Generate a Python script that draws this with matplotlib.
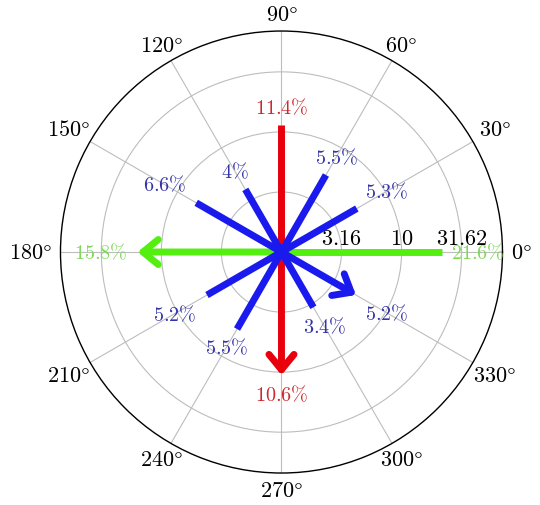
import numpy as np
import matplotlib
matplotlib.use('Agg')
import matplotlib.pyplot as plt

plt.rcParams['mathtext.fontset'] = 'cm'

# data: direction (deg), share (%), label text, colour group
angles = [0, 30, 60, 90, 120, 150, 180, 210, 240, 270, 300, 330]
shares = [21.6, 5.3, 5.5, 11.4, 4.0, 6.6, 15.8, 5.2, 5.5, 10.6, 3.4, 5.2]
share_labels = ['21.6', '5.3', '5.5', '11.4', '4', '6.6', '15.8', '5.2', '5.5', '10.6', '3.4', '5.2']
groups = ['g', 'b', 'b', 'r', 'b', 'b', 'g', 'b', 'b', 'r', 'b', 'b']
arrows = [False, False, False, False, False, False, True, False, False, True, False, True]

radial_ticks = [0.5, 1.0, 1.5]
radial_labels = ['3.16', '10', '31.62']
theta_ticks = list(range(0, 360, 30))

line_col = {'b': '#1a1aee', 'r': '#e8000c', 'g': '#55ee11'}
text_col = {'b': '#3434a8', 'r': '#cc2a30', 'g': '#7ed957'}
zord = {'g': 3, 'r': 4, 'b': 5}
# distance of label centre from line end (px)
label_pad = [36, 35, 21, 18, 21, 37, 37, 37, 21, 19, 22, 36]
rmax = 1.84

fig = plt.figure(figsize=(5.4, 5.06), dpi=100)
ax = fig.add_axes([0.112, 0.0632, 0.8185, 0.8735], projection='polar')
ax.set_ylim(0, rmax)

ax.set_rticks(radial_ticks)
ax.set_yticklabels([])
ax.set_thetagrids(theta_ticks, [''] * len(theta_ticks))
ax.grid(True, color='#bdbdbd', lw=0.8)
ax.spines['polar'].set_linewidth(1.0)

# angle labels outside the circle, edge kept ~9 px from it
theta_txt = []
for t in theta_ticks:
    a = ax.annotate(r'$%d\degree$' % t, xy=(np.deg2rad(t), rmax), xytext=(0, 0),
                    textcoords='offset pixels', ha='center', va='center',
                    fontsize=16, annotation_clip=False)
    theta_txt.append(a)
fig.canvas.draw()
rend = fig.canvas.get_renderer()
for t, a in zip(theta_ticks, theta_txt):
    bb = a.get_window_extent(rend)
    hw, hh = bb.width / 2, bb.height / 2 - 2
    c, s = np.cos(np.deg2rad(t)), np.sin(np.deg2rad(t))
    ext = min(hw / abs(c) if abs(c) > 1e-6 else 1e9, hh / abs(s) if abs(s) > 1e-6 else 1e9)
    d = 9 + ext
    a.xyann = (d * c, d * s)

for r, lab in zip(radial_ticks, radial_labels):
    ax.annotate(r'$%s$' % lab, xy=(0, r), xytext=(0, 10), textcoords='offset points',
                ha='center', va='center', fontsize=16, color='black', zorder=6)

for i in range(len(angles)):
    th = np.deg2rad(angles[i])
    r = np.log10(shares[i])
    g = groups[i]
    c = line_col[g]
    if arrows[i]:
        ax.annotate('', xy=(th, r), xytext=(th, 0), zorder=zord[g],
                    arrowprops=dict(arrowstyle='->, head_length=0.55, head_width=0.45',
                                    mutation_scale=20, lw=5, color=c,
                                    shrinkA=0, shrinkB=0))
    else:
        ax.plot([th, th], [0, r], color=c, lw=5, solid_capstyle='butt', zorder=zord[g])
    off = label_pad[i] * 0.72
    ax.annotate(r'$%s\%%$' % share_labels[i], xy=(th, r),
                xytext=(off * np.cos(th), off * np.sin(th)), textcoords='offset points',
                ha='center', va='center', fontsize=14.5, color=text_col[g], zorder=6)

fig.savefig('out.png', dpi=100)
